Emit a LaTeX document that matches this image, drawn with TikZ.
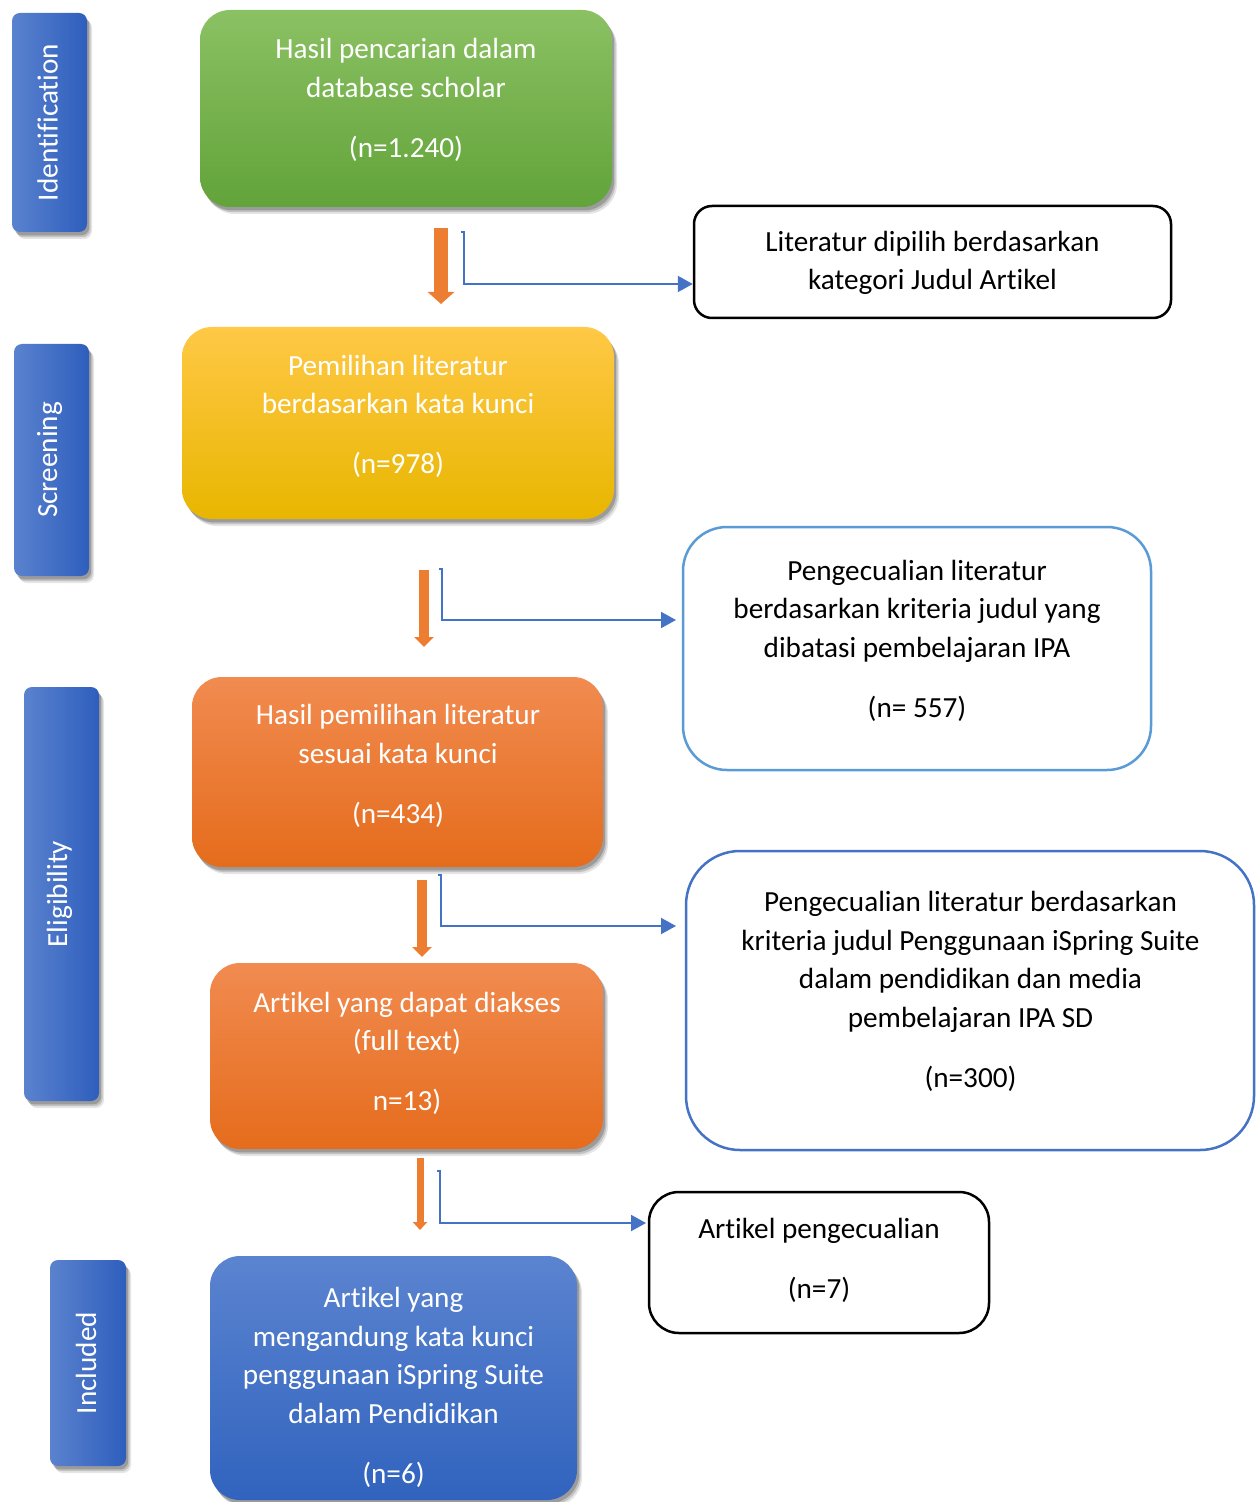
\documentclass[tikz,border=0pt]{standalone}
\usepackage{fontspec}
\setmainfont{Carlito}[Ligatures=NoCommon]
\usetikzlibrary{arrows.meta,shadows,fit}
\definecolor{sideL}{HTML}{5A82CE}
\definecolor{sideR}{HTML}{2E5EBD}
\definecolor{grnT}{HTML}{8BC163}
\definecolor{grnB}{HTML}{62A33A}
\definecolor{yelT}{HTML}{FFC846}
\definecolor{yelM}{HTML}{FFC600}
\definecolor{yelB}{HTML}{E8B600}
\definecolor{orT}{HTML}{F18B50}
\definecolor{orB}{HTML}{E56C1C}
\definecolor{bluT}{HTML}{5B84D0}
\definecolor{bluB}{HTML}{3163BE}
\definecolor{lblue}{HTML}{5B9BD5}
\definecolor{dblue}{HTML}{4472C4}
\definecolor{oarr}{HTML}{ED7D31}
\tikzset{
  txt/.style={align=center, inner sep=0pt, font={\fontsize{14.6pt}{19.25pt}\selectfont}},
  wtxt/.style={txt, text=white},
  btxt/.style={txt, text=black},
  boxshadow/.style={
    drop shadow={shadow xshift=2.5pt, shadow yshift=-3.5pt, opacity=0.10, fill=black},
    drop shadow={shadow xshift=1.8pt, shadow yshift=-2.6pt, opacity=0.15, fill=black},
    drop shadow={shadow xshift=1.1pt, shadow yshift=-1.7pt, opacity=0.20, fill=black}},
  sidebox/.style={inner sep=0pt, rounded corners=4pt, left color=sideL, right color=sideR, boxshadow},
  mainbox/.style={inner sep=0pt, rounded corners=15pt, boxshadow},
  outbox/.style={inner sep=0pt, draw, line width=1.25pt, fill=white},
  oarrow/.style={draw=oarr, line width=#1},
  barrow/.style={draw=dblue, line width=1pt, -{Triangle[length=7.5pt,width=8pt]}},
}
\begin{document}
\begin{tikzpicture}[x=0.5pt, y=-0.5pt]
\useasboundingbox (0,0) rectangle (1256,1502);
\fill[white] (0,0) rectangle (1256,1502);

% side labels
\node[sidebox, fit={(12,13) (87,232)}] (s1) {};
\node[wtxt, rotate=90] (s1t) at ([xshift=-1pt]s1.center) {Identification};
\node[sidebox, fit={(14,344) (89,576)}] (s2) {};
\node[wtxt, rotate=90] (s2t) at ([xshift=-1pt]s2.center) {Screening};
\node[sidebox, fit={(24,687) (99,1101)}] (s3) {};
\node[wtxt, rotate=90] (s3t) at ([xshift=-1pt]s3.center) {Eligibility};
\node[sidebox, fit={(50,1260) (126,1466)}] (s4) {};
\node[wtxt, rotate=90] (s4t) at ([xshift=-1pt]s4.center) {Included};

% main boxes
\node[mainbox, top color=grnT, bottom color=grnB, fit={(200,10) (612,207)}] (g) {};
\node[wtxt] (gt) at (406,100) {Hasil pencarian dalam\\database scholar\\[10.75pt](n=1.240)};

\node[mainbox, top color=yelT, middle color=yelM, bottom color=yelB, fit={(182,327) (614,519)}] (y) {};
\node[wtxt] (yt) at (398,416.5) {Pemilihan literatur\\berdasarkan kata kunci\\[10.75pt](n=978)};

\node[mainbox, top color=orT, bottom color=orB, fit={(192,677) (603,867)}] (o1) {};
\node[wtxt] (o1t) at (398,766) {Hasil pemilihan literatur\\sesuai kata kunci\\[10.75pt](n=434)};

\node[mainbox, top color=orT, bottom color=orB, fit={(210,963) (603,1149)}] (o2) {};
\node[wtxt] (o2t) at (407,1053.5) {Artikel yang dapat diakses\\(full text)\\[10.75pt]n=13)};

\node[mainbox, top color=bluT, bottom color=bluB, fit={(210,1256) (577,1500)}] (b) {};
\node[wtxt] (bt) at (393.5,1387.5) {Artikel yang\\mengandung kata kunci\\penggunaan iSpring Suite\\dalam Pendidikan\\[10.75pt](n=6)};

% right boxes
\node[outbox, draw=black, rounded corners=9pt, fit={(694,206) (1171,318)}] (ra) {};
\node[btxt] (rat) at (932.5,263) {Literatur dipilih berdasarkan\\kategori Judul Artikel};

\node[outbox, draw=lblue, rounded corners=22pt, fit={(683,527) (1151,770)}] (rb) {};
\node[btxt] (rbt) at (917,640.5) {Pengecualian literatur\\berdasarkan kriteria judul yang\\dibatasi pembelajaran IPA\\[10.75pt](n= 557)};

\node[outbox, draw=dblue, rounded corners=27pt, fit={(686,851) (1254,1150)}] (rc) {};
\node[btxt] (rct) at (970.5,991.5) {Pengecualian literatur berdasarkan\\kriteria judul Penggunaan iSpring Suite\\dalam pendidikan dan media\\pembelajaran IPA SD\\[10.75pt](n=300)};

\node[outbox, draw=black, rounded corners=15pt, fit={(649,1192) (989,1333)}] (rd) {};
\node[btxt] (rdt) at (819,1260.5) {Artikel pengecualian\\[10.75pt](n=7)};

% orange down arrows
\coordinate (a1s) at (441,228); \coordinate (a1e) at (441,304);
\draw[oarrow=7pt, -{Triangle[length=6pt,width=13pt]}] (a1s) -- (a1e);
\coordinate (a2s) at (424,570); \coordinate (a2e) at (424,647);
\draw[oarrow=5pt, -{Triangle[length=5pt,width=9.5pt]}] (a2s) -- (a2e);
\coordinate (a3s) at (422,880); \coordinate (a3e) at (422,957);
\draw[oarrow=5pt, -{Triangle[length=5pt,width=9.5pt]}] (a3s) -- (a3e);
\coordinate (a4s) at (420,1158); \coordinate (a4e) at (420,1230);
\draw[oarrow=3.5pt, -{Triangle[length=4pt,width=7pt]}] (a4s) -- (a4e);

% blue elbow connectors
\coordinate (c1s) at (461,232); \coordinate (c1e) at (ra.west |- 0,284);
\draw[barrow] (c1s) -- ++(3,0) |- (c1e);
\coordinate (c2s) at (439,569); \coordinate (c2e) at (676,620);
\draw[barrow] (c2s) -- ++(3,0) |- (c2e);
\coordinate (c3s) at (438,875); \coordinate (c3e) at (676,926);
\draw[barrow] (c3s) -- ++(3,0) |- (c3e);
\coordinate (c4s) at (437,1171); \coordinate (c4e) at (646,1223);
\draw[barrow] (c4s) -- ++(3,0) |- (c4e);
\end{tikzpicture}
\end{document}
